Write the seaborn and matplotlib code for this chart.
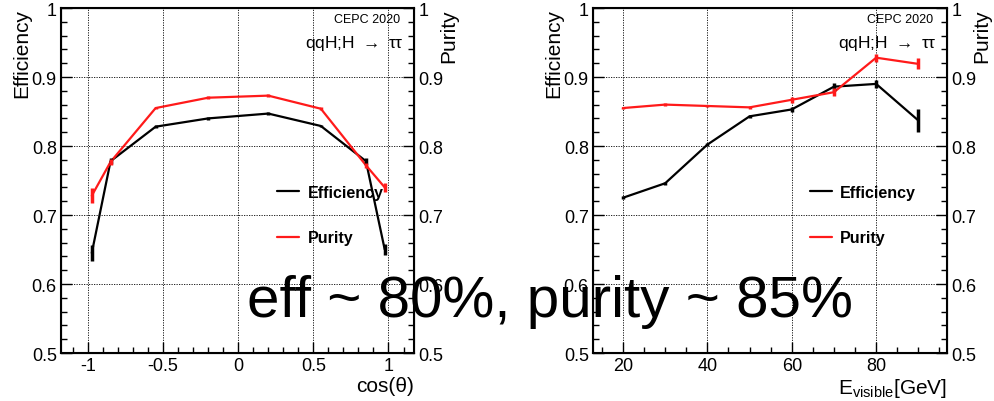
import numpy as np
import pandas as pd
import seaborn as sns
import matplotlib.pyplot as plt
from matplotlib.ticker import MultipleLocator

# data
cos_bins = [-0.975, -0.85, -0.55, -0.2, 0.2, 0.55, 0.85, 0.975]
cos_eff = [0.645, 0.778, 0.828, 0.840, 0.847, 0.829, 0.778, 0.650]
cos_eff_err = [0.011, 0.004, 0.002, 0.002, 0.002, 0.002, 0.005, 0.008]
cos_pur = [0.728, 0.777, 0.855, 0.870, 0.873, 0.854, 0.772, 0.740]
cos_pur_err = [0.011, 0.004, 0.002, 0.002, 0.002, 0.002, 0.004, 0.006]

e_bins = [20, 30, 40, 50, 60, 70, 80, 90]
e_eff = [0.725, 0.746, 0.802, 0.843, 0.853, 0.886, 0.890, 0.837]
e_eff_err = [0.002, 0.002, 0.002, 0.002, 0.004, 0.006, 0.006, 0.016]
e_pur = [0.855, 0.860, 0.858, 0.856, 0.867, 0.878, 0.928, 0.919]
e_pur_err = [0.002, 0.002, 0.002, 0.002, 0.004, 0.006, 0.006, 0.008]

ytick_vals = [0.5, 0.6, 0.7, 0.8, 0.9, 1.0]
ytick_labels = ["0.5", "0.6", "0.7", "0.8", "0.9", "1"]

sns.set_style("ticks")
plt.rcParams['font.family'] = ['Liberation Sans', 'DejaVu Sans']
plt.rcParams['mathtext.fontset'] = 'custom'
plt.rcParams['mathtext.rm'] = 'Liberation Sans'
for key in ['text.color', 'axes.labelcolor', 'xtick.color', 'ytick.color', 'axes.edgecolor']:
    plt.rcParams[key] = 'black'

RED = "#ff1a1a"

fig = plt.figure(figsize=(9.95, 4.02), dpi=100)
ax1 = fig.add_axes([0.0613, 0.1194, 0.3548, 0.8582])
ax2 = fig.add_axes([0.596, 0.1194, 0.3558, 0.8582])


def draw_panel(ax, x, eff, eff_err, pur, pur_err, xlim, xminor, xticks, xlabels, xlabel):
    df = pd.DataFrame({"x": x, "eff": eff, "pur": pur})
    sns.lineplot(data=df, x="x", y="eff", ax=ax, color="black", lw=1.6, label="Efficiency")
    sns.lineplot(data=df, x="x", y="pur", ax=ax, color=RED, lw=1.6, label="Purity")
    ax.errorbar(x, eff, yerr=eff_err, fmt="none", ecolor="black", elinewidth=2.5, capsize=0)
    ax.errorbar(x, pur, yerr=pur_err, fmt="none", ecolor=RED, elinewidth=2.5, capsize=0)

    ax.set_xlim(*xlim)
    ax.set_ylim(0.5, 1.0)
    ax.set_xticks(xticks)
    ax.set_xticklabels(xlabels)
    ax.xaxis.set_minor_locator(MultipleLocator(xminor))
    ax.set_yticks(ytick_vals)
    ax.set_yticklabels(ytick_labels)
    ax.yaxis.set_minor_locator(MultipleLocator(0.02))
    ax.tick_params(which="major", direction="in", length=8, width=1, labelsize=13, pad=3)
    ax.tick_params(which="minor", direction="in", length=4, width=1)
    ax.grid(True, which="major", ls=(0, (1.5, 1.5)), color="black", lw=0.6)
    for s in ax.spines.values():
        s.set_linewidth(1.5)

    ax.set_ylabel("Efficiency", fontsize=15, loc="top", labelpad=0)
    ax.set_xlabel(xlabel, fontsize=15, loc="right", labelpad=1)

    twin = ax.twinx()
    twin.set_ylim(0.5, 1.0)
    twin.set_yticks(ytick_vals)
    twin.set_yticklabels(ytick_labels)
    twin.yaxis.set_minor_locator(MultipleLocator(0.02))
    twin.tick_params(which="major", direction="in", length=8, width=1, labelsize=13, pad=3)
    twin.tick_params(which="minor", direction="in", length=4, width=1)
    twin.set_ylabel("Purity", fontsize=15, loc="top", labelpad=-3)

    ax.text(0.96, 0.968, "CEPC 2020", transform=ax.transAxes, ha="right", va="center", fontsize=9)
    ax.text(0.97, 0.899, r"qqH;H $\rightarrow$ ττ", transform=ax.transAxes,
            ha="right", va="center", fontsize=12.5)

    ax.legend(loc="center left", bbox_to_anchor=(0.612, 0.4), frameon=False,
              prop={"weight": "bold", "size": 11.5}, handlelength=1.4,
              handletextpad=0.5, labelspacing=1.9, borderaxespad=0, borderpad=0)


draw_panel(ax1, cos_bins, cos_eff, cos_eff_err, cos_pur, cos_pur_err,
           (-1.18, 1.17), 0.1, [-1, -0.5, 0, 0.5, 1], ["-1", "-0.5", "0", "0.5", "1"],
           "cos(\u03b8)")
draw_panel(ax2, e_bins, e_eff, e_eff_err, e_pur, e_pur_err,
           (12.9, 96.8), 5, [20, 40, 60, 80], ["20", "40", "60", "80"],
           r"E$_{\mathrm{visible}}$[GeV]")

fig.text(0.553, 0.2114, "eff ~ 80%, purity ~ 85%", ha="center", va="baseline",
         fontsize=42, color="black")

fig.savefig("out.png", dpi=100)
